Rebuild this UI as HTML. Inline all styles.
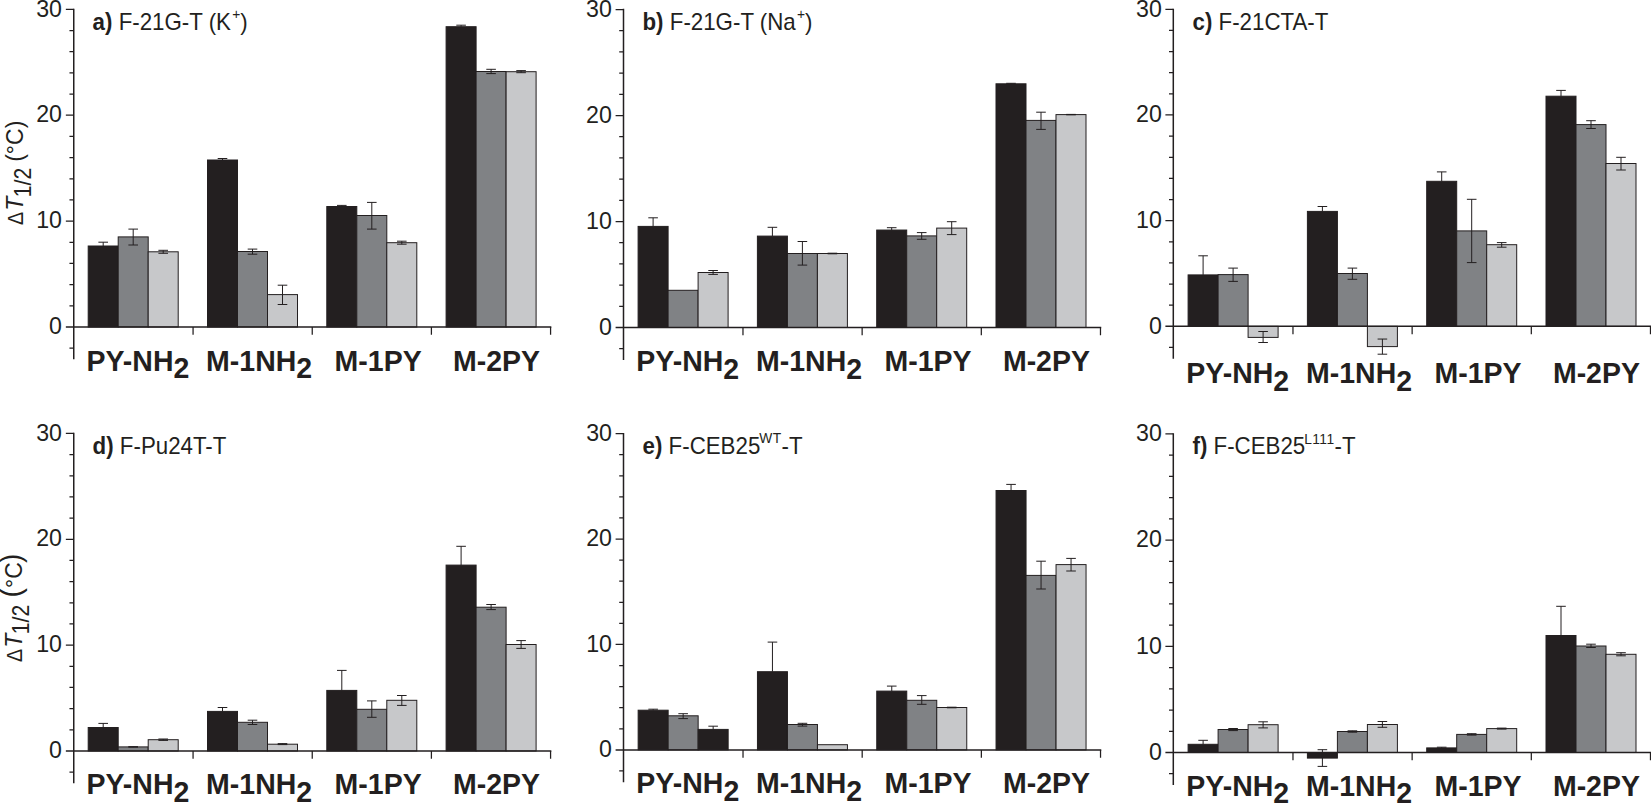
<!DOCTYPE html>
<html lang="en">
<head>
<meta charset="utf-8">
<title>ΔT1/2 bar charts</title>
<style>
html,body{margin:0;padding:0;background:#fff;}
body{width:1651px;height:804px;overflow:hidden;}
svg{display:block;}
text{font-family:"Liberation Sans", Arial, Helvetica, sans-serif;fill:#231f20;}
.tk{font-size:23.2px;text-anchor:end;}
.cat{font-size:28.5px;font-weight:bold;}
.ttl{font-size:22.3px;}
.sup{font-size:13.8px;}
.yl{font-size:23px;}
</style>
</head>
<body>
<svg width="1651" height="804" viewBox="0 0 1651 804">
<rect width="1651" height="804" fill="#fff"/>
<g id="panel-a">
<rect x="88.2" y="246" width="30" height="81" fill="#231f20" stroke="#231f20" stroke-width="1"/>
<rect x="118.2" y="236.9" width="30" height="90.1" fill="#808285" stroke="#231f20" stroke-width="1"/>
<rect x="148.2" y="251.8" width="30" height="75.2" fill="#c7c8ca" stroke="#231f20" stroke-width="1"/>
<rect x="207.5" y="160" width="30" height="167" fill="#231f20" stroke="#231f20" stroke-width="1"/>
<rect x="237.5" y="251.5" width="30" height="75.5" fill="#808285" stroke="#231f20" stroke-width="1"/>
<rect x="267.5" y="294.6" width="30" height="32.4" fill="#c7c8ca" stroke="#231f20" stroke-width="1"/>
<rect x="326.8" y="206.5" width="30" height="120.5" fill="#231f20" stroke="#231f20" stroke-width="1"/>
<rect x="356.8" y="215.5" width="30" height="111.5" fill="#808285" stroke="#231f20" stroke-width="1"/>
<rect x="386.8" y="242.7" width="30" height="84.3" fill="#c7c8ca" stroke="#231f20" stroke-width="1"/>
<rect x="446.1" y="26.7" width="30" height="300.3" fill="#231f20" stroke="#231f20" stroke-width="1"/>
<rect x="476.1" y="71.5" width="30" height="255.5" fill="#808285" stroke="#231f20" stroke-width="1"/>
<rect x="506.1" y="71.7" width="30" height="255.3" fill="#c7c8ca" stroke="#231f20" stroke-width="1"/>
<path d="M103.2 242.2V246M98.4 242.2H108M133.2 229.1V245M128.4 229.1H138M128.4 245H138M163.2 250.3V253.3M158.4 250.3H168M158.4 253.3H168M222.5 158.5V160M217.7 158.5H227.3M252.5 249.1V254.2M247.7 249.1H257.3M247.7 254.2H257.3M282.5 285.2V304.5M277.7 285.2H287.3M277.7 304.5H287.3M341.8 205.4V206.5M337 205.4H346.6M371.8 202.4V229.1M367 202.4H376.6M367 229.1H376.6M401.8 241.2V244.2M397 241.2H406.6M397 244.2H406.6M461.1 25.2V26.7M456.3 25.2H465.9M491.1 69.3V73.6M486.3 69.3H495.9M486.3 73.6H495.9M521.1 70.6V72.7M516.3 70.6H525.9M516.3 72.7H525.9" fill="none" stroke="#231f20" stroke-width="1"/>
<path d="M73.75 8.7V359.37M65.85 327H551.33" fill="none" stroke="#231f20" stroke-width="1.5"/>
<path d="M69.45 348.18H73.75M69.45 305.82H73.75M69.45 284.65H73.75M69.45 263.47H73.75M69.45 242.29H73.75M65.85 221.12H73.75M69.45 199.94H73.75M69.45 178.76H73.75M69.45 157.59H73.75M69.45 136.41H73.75M65.85 115.23H73.75M69.45 94.06H73.75M69.45 72.88H73.75M69.45 51.7H73.75M69.45 30.53H73.75M65.85 9.35H73.75M193.07 327V334.8M312.24 327V334.8M431.41 327V334.8M550.58 327V334.8" fill="none" stroke="#231f20" stroke-width="1.25"/>
<text class="tk" transform="translate(62 334.2) scale(1 1.04)">0</text>
<text class="tk" transform="translate(62 228.32) scale(1 1.04)">10</text>
<text class="tk" transform="translate(62 122.43) scale(1 1.04)">20</text>
<text class="tk" transform="translate(62 16.55) scale(1 1.04)">30</text>
<text class="cat" transform="translate(86.4 370.5) scale(1 1.04)">PY-NH<tspan dy="7.5">2</tspan></text>
<text class="cat" transform="translate(206.1 370.5) scale(1 1.04)">M-1NH<tspan dy="7.5">2</tspan></text>
<text class="cat" transform="translate(334.6 370.5) scale(1 1.04)">M-1PY</text>
<text class="cat" transform="translate(453 370.5) scale(1 1.04)">M-2PY</text>
<text class="ttl" transform="translate(92.6 29.75) scale(1 1.04)"><tspan font-weight="bold">a)</tspan> F-21G-T (K<tspan class="sup" dx="1.2" dy="-10.29">+</tspan><tspan dy="10.29">)</tspan></text>
</g>
<g id="panel-b">
<rect x="638.1" y="226.4" width="30" height="101.1" fill="#231f20" stroke="#231f20" stroke-width="1"/>
<rect x="668.1" y="290.3" width="30" height="37.2" fill="#808285" stroke="#231f20" stroke-width="1"/>
<rect x="698.1" y="272.5" width="30" height="55" fill="#c7c8ca" stroke="#231f20" stroke-width="1"/>
<rect x="757.4" y="236.1" width="30" height="91.4" fill="#231f20" stroke="#231f20" stroke-width="1"/>
<rect x="787.4" y="253.5" width="30" height="74" fill="#808285" stroke="#231f20" stroke-width="1"/>
<rect x="817.4" y="253.5" width="30" height="74" fill="#c7c8ca" stroke="#231f20" stroke-width="1"/>
<rect x="876.7" y="230.05" width="30" height="97.45" fill="#231f20" stroke="#231f20" stroke-width="1"/>
<rect x="906.7" y="235.9" width="30" height="91.6" fill="#808285" stroke="#231f20" stroke-width="1"/>
<rect x="936.7" y="228.1" width="30" height="99.4" fill="#c7c8ca" stroke="#231f20" stroke-width="1"/>
<rect x="996" y="83.8" width="30" height="243.7" fill="#231f20" stroke="#231f20" stroke-width="1"/>
<rect x="1026" y="120.4" width="30" height="207.1" fill="#808285" stroke="#231f20" stroke-width="1"/>
<rect x="1056" y="114.6" width="30" height="212.9" fill="#c7c8ca" stroke="#231f20" stroke-width="1"/>
<path d="M653.1 217.8V226.4M648.3 217.8H657.9M713.1 270.5V274.4M708.3 270.5H717.9M708.3 274.4H717.9M772.4 227.3V236.1M767.6 227.3H777.2M802.4 241.5V265.1M797.6 241.5H807.2M797.6 265.1H807.2M832.4 253.2V253.8M827.6 253.2H837.2M827.6 253.8H837.2M891.7 227.7V230.05M886.9 227.7H896.5M921.7 232.6V239.3M916.9 232.6H926.5M916.9 239.3H926.5M951.7 221.7V234.6M946.9 221.7H956.5M946.9 234.6H956.5M1011 83.3V83.8M1006.2 83.3H1015.8M1041 112.2V129.4M1036.2 112.2H1045.8M1036.2 129.4H1045.8M1071 114.4V114.8M1066.2 114.4H1075.8M1066.2 114.8H1075.8" fill="none" stroke="#231f20" stroke-width="1"/>
<path d="M623.5 8.85V359.9M615.6 327.5H1101.23" fill="none" stroke="#231f20" stroke-width="1.5"/>
<path d="M619.2 348.7H623.5M619.2 306.3H623.5M619.2 285.1H623.5M619.2 263.9H623.5M619.2 242.7H623.5M615.6 221.5H623.5M619.2 200.3H623.5M619.2 179.1H623.5M619.2 157.9H623.5M619.2 136.7H623.5M615.6 115.5H623.5M619.2 94.3H623.5M619.2 73.1H623.5M619.2 51.9H623.5M619.2 30.7H623.5M615.6 9.5H623.5M742.97 327.5V335.3M862.14 327.5V335.3M981.31 327.5V335.3M1100.48 327.5V335.3" fill="none" stroke="#231f20" stroke-width="1.25"/>
<text class="tk" transform="translate(611.9 334.7) scale(1 1.04)">0</text>
<text class="tk" transform="translate(611.9 228.7) scale(1 1.04)">10</text>
<text class="tk" transform="translate(611.9 122.7) scale(1 1.04)">20</text>
<text class="tk" transform="translate(611.9 16.7) scale(1 1.04)">30</text>
<text class="cat" transform="translate(636.3 371) scale(1 1.04)">PY-NH<tspan dy="7.5">2</tspan></text>
<text class="cat" transform="translate(756 371) scale(1 1.04)">M-1NH<tspan dy="7.5">2</tspan></text>
<text class="cat" transform="translate(884.5 371) scale(1 1.04)">M-1PY</text>
<text class="cat" transform="translate(1002.9 371) scale(1 1.04)">M-2PY</text>
<text class="ttl" transform="translate(642.5 29.9) scale(1 1.04)"><tspan font-weight="bold">b)</tspan> F-21G-T (Na<tspan class="sup" dx="1.2" dy="-10.29">+</tspan><tspan dy="10.29">)</tspan></text>
</g>
<g id="panel-c">
<rect x="1188.1" y="274.9" width="30" height="51.45" fill="#231f20" stroke="#231f20" stroke-width="1"/>
<rect x="1218.1" y="274.6" width="30" height="51.75" fill="#808285" stroke="#231f20" stroke-width="1"/>
<rect x="1248.1" y="326.35" width="30" height="11.05" fill="#c7c8ca" stroke="#231f20" stroke-width="1"/>
<rect x="1307.4" y="211.4" width="30" height="114.95" fill="#231f20" stroke="#231f20" stroke-width="1"/>
<rect x="1337.4" y="273.5" width="30" height="52.85" fill="#808285" stroke="#231f20" stroke-width="1"/>
<rect x="1367.4" y="326.35" width="30" height="20.25" fill="#c7c8ca" stroke="#231f20" stroke-width="1"/>
<rect x="1426.7" y="181.3" width="30" height="145.05" fill="#231f20" stroke="#231f20" stroke-width="1"/>
<rect x="1456.7" y="230.9" width="30" height="95.45" fill="#808285" stroke="#231f20" stroke-width="1"/>
<rect x="1486.7" y="244.7" width="30" height="81.65" fill="#c7c8ca" stroke="#231f20" stroke-width="1"/>
<rect x="1546" y="96.2" width="30" height="230.15" fill="#231f20" stroke="#231f20" stroke-width="1"/>
<rect x="1576" y="124.6" width="30" height="201.75" fill="#808285" stroke="#231f20" stroke-width="1"/>
<rect x="1606" y="163.5" width="30" height="162.85" fill="#c7c8ca" stroke="#231f20" stroke-width="1"/>
<path d="M1203.1 255.8V274.9M1198.3 255.8H1207.9M1233.1 268.1V281.4M1228.3 268.1H1237.9M1228.3 281.4H1237.9M1263.1 331.5V342.5M1258.3 331.5H1267.9M1258.3 342.5H1267.9M1322.4 206.5V211.4M1317.6 206.5H1327.2M1352.4 268.1V279.3M1347.6 268.1H1357.2M1347.6 279.3H1357.2M1382.4 339.05V354.2M1377.6 339.05H1387.2M1377.6 354.2H1387.2M1441.7 171.9V181.3M1436.9 171.9H1446.5M1471.7 199.3V262.6M1466.9 199.3H1476.5M1466.9 262.6H1476.5M1501.7 242.6V247.2M1496.9 242.6H1506.5M1496.9 247.2H1506.5M1561 90.4V96.2M1556.2 90.4H1565.8M1591 120.7V128.5M1586.2 120.7H1595.8M1586.2 128.5H1595.8M1621 157.3V170M1616.2 157.3H1625.8M1616.2 170H1625.8" fill="none" stroke="#231f20" stroke-width="1"/>
<path d="M1173.3 8.65V358.66M1165.4 326.35H1651.23" fill="none" stroke="#231f20" stroke-width="1.5"/>
<path d="M1169 347.49H1173.3M1169 305.21H1173.3M1169 284.08H1173.3M1169 262.94H1173.3M1169 241.8H1173.3M1165.4 220.67H1173.3M1169 199.53H1173.3M1169 178.39H1173.3M1169 157.26H1173.3M1169 136.12H1173.3M1165.4 114.98H1173.3M1169 93.85H1173.3M1169 72.71H1173.3M1169 51.57H1173.3M1169 30.44H1173.3M1165.4 9.3H1173.3M1292.97 326.35V334.15M1412.14 326.35V334.15M1531.31 326.35V334.15M1650.48 326.35V334.15" fill="none" stroke="#231f20" stroke-width="1.25"/>
<text class="tk" transform="translate(1161.9 333.55) scale(1 1.04)">0</text>
<text class="tk" transform="translate(1161.9 227.87) scale(1 1.04)">10</text>
<text class="tk" transform="translate(1161.9 122.18) scale(1 1.04)">20</text>
<text class="tk" transform="translate(1161.9 16.5) scale(1 1.04)">30</text>
<text class="cat" transform="translate(1186.3 383.45) scale(1 1.04)">PY-NH<tspan dy="7.5">2</tspan></text>
<text class="cat" transform="translate(1306 383.45) scale(1 1.04)">M-1NH<tspan dy="7.5">2</tspan></text>
<text class="cat" transform="translate(1434.5 383.45) scale(1 1.04)">M-1PY</text>
<text class="cat" transform="translate(1552.9 383.45) scale(1 1.04)">M-2PY</text>
<text class="ttl" transform="translate(1192.5 29.7) scale(1 1.04)"><tspan font-weight="bold">c)</tspan> F-21CTA-T</text>
</g>
<g id="panel-d">
<rect x="88.2" y="727.5" width="30" height="23.5" fill="#231f20" stroke="#231f20" stroke-width="1"/>
<rect x="118.2" y="746.9" width="30" height="4.1" fill="#808285" stroke="#231f20" stroke-width="1"/>
<rect x="148.2" y="739.7" width="30" height="11.3" fill="#c7c8ca" stroke="#231f20" stroke-width="1"/>
<rect x="207.5" y="711.4" width="30" height="39.6" fill="#231f20" stroke="#231f20" stroke-width="1"/>
<rect x="237.5" y="722.3" width="30" height="28.7" fill="#808285" stroke="#231f20" stroke-width="1"/>
<rect x="267.5" y="744.2" width="30" height="6.8" fill="#c7c8ca" stroke="#231f20" stroke-width="1"/>
<rect x="326.8" y="690.4" width="30" height="60.6" fill="#231f20" stroke="#231f20" stroke-width="1"/>
<rect x="356.8" y="709.3" width="30" height="41.7" fill="#808285" stroke="#231f20" stroke-width="1"/>
<rect x="386.8" y="700.3" width="30" height="50.7" fill="#c7c8ca" stroke="#231f20" stroke-width="1"/>
<rect x="446.1" y="565.1" width="30" height="185.9" fill="#231f20" stroke="#231f20" stroke-width="1"/>
<rect x="476.1" y="607.2" width="30" height="143.8" fill="#808285" stroke="#231f20" stroke-width="1"/>
<rect x="506.1" y="644.5" width="30" height="106.5" fill="#c7c8ca" stroke="#231f20" stroke-width="1"/>
<path d="M103.2 723.4V727.5M98.4 723.4H108M133.2 746.7V747.1M128.4 746.7H138M128.4 747.1H138M163.2 739V740.4M158.4 739H168M158.4 740.4H168M222.5 707.5V711.4M217.7 707.5H227.3M252.5 720.2V724.5M247.7 720.2H257.3M247.7 724.5H257.3M282.5 743.6V744.6M277.7 743.6H287.3M277.7 744.6H287.3M341.8 670.4V690.4M337 670.4H346.6M371.8 700.9V717.3M367 700.9H376.6M367 717.3H376.6M401.8 695.5V705.4M397 695.5H406.6M397 705.4H406.6M461.1 546.3V565.1M456.3 546.3H465.9M491.1 604.5V609.6M486.3 604.5H495.9M486.3 609.6H495.9M521.1 640.6V648.4M516.3 640.6H525.9M516.3 648.4H525.9" fill="none" stroke="#231f20" stroke-width="1"/>
<path d="M73.75 432.75V783.36M65.85 751H551.33" fill="none" stroke="#231f20" stroke-width="1.5"/>
<path d="M69.45 772.17H73.75M69.45 729.83H73.75M69.45 708.65H73.75M69.45 687.48H73.75M69.45 666.31H73.75M65.85 645.13H73.75M69.45 623.96H73.75M69.45 602.79H73.75M69.45 581.61H73.75M69.45 560.44H73.75M65.85 539.27H73.75M69.45 518.09H73.75M69.45 496.92H73.75M69.45 475.75H73.75M69.45 454.57H73.75M65.85 433.4H73.75M193.07 751V758.8M312.24 751V758.8M431.41 751V758.8M550.58 751V758.8" fill="none" stroke="#231f20" stroke-width="1.25"/>
<text class="tk" transform="translate(62 758.2) scale(1 1.04)">0</text>
<text class="tk" transform="translate(62 652.33) scale(1 1.04)">10</text>
<text class="tk" transform="translate(62 546.47) scale(1 1.04)">20</text>
<text class="tk" transform="translate(62 440.6) scale(1 1.04)">30</text>
<text class="cat" transform="translate(86.4 794.4) scale(1 1.04)">PY-NH<tspan dy="7.5">2</tspan></text>
<text class="cat" transform="translate(206.1 794.4) scale(1 1.04)">M-1NH<tspan dy="7.5">2</tspan></text>
<text class="cat" transform="translate(334.6 794.4) scale(1 1.04)">M-1PY</text>
<text class="cat" transform="translate(453 794.4) scale(1 1.04)">M-2PY</text>
<text class="ttl" transform="translate(92.6 453.8) scale(1 1.04)"><tspan font-weight="bold">d)</tspan> F-Pu24T-T</text>
</g>
<g id="panel-e">
<rect x="638.15" y="710.2" width="30" height="39.7" fill="#231f20" stroke="#231f20" stroke-width="1"/>
<rect x="668.15" y="715.8" width="30" height="34.1" fill="#808285" stroke="#231f20" stroke-width="1"/>
<rect x="698.15" y="729.4" width="30" height="20.5" fill="#231f20" stroke="#231f20" stroke-width="1"/>
<rect x="757.45" y="671.7" width="30" height="78.2" fill="#231f20" stroke="#231f20" stroke-width="1"/>
<rect x="787.45" y="724.5" width="30" height="25.4" fill="#808285" stroke="#231f20" stroke-width="1"/>
<rect x="817.45" y="744.7" width="30" height="5.2" fill="#c7c8ca" stroke="#231f20" stroke-width="1"/>
<rect x="876.75" y="691.1" width="30" height="58.8" fill="#231f20" stroke="#231f20" stroke-width="1"/>
<rect x="906.75" y="700.3" width="30" height="49.6" fill="#808285" stroke="#231f20" stroke-width="1"/>
<rect x="936.75" y="707.5" width="30" height="42.4" fill="#c7c8ca" stroke="#231f20" stroke-width="1"/>
<rect x="996.05" y="490.5" width="30" height="259.4" fill="#231f20" stroke="#231f20" stroke-width="1"/>
<rect x="1026.05" y="575.4" width="30" height="174.5" fill="#808285" stroke="#231f20" stroke-width="1"/>
<rect x="1056.05" y="564.6" width="30" height="185.3" fill="#c7c8ca" stroke="#231f20" stroke-width="1"/>
<path d="M653.15 709.2V710.2M648.35 709.2H657.95M683.15 713.7V718.6M678.35 713.7H687.95M678.35 718.6H687.95M713.15 726.2V729.4M708.35 726.2H717.95M772.45 642.1V671.7M767.65 642.1H777.25M802.45 723.3V726.1M797.65 723.3H807.25M797.65 726.1H807.25M891.75 686.1V691.1M886.95 686.1H896.55M921.75 695.6V704.3M916.95 695.6H926.55M916.95 704.3H926.55M951.75 707.2V707.8M946.95 707.2H956.55M946.95 707.8H956.55M1011.05 484.4V490.5M1006.25 484.4H1015.85M1041.05 561.2V589M1036.25 561.2H1045.85M1036.25 589H1045.85M1071.05 558.4V571M1066.25 558.4H1075.85M1066.25 571H1075.85" fill="none" stroke="#231f20" stroke-width="1"/>
<path d="M623.5 432.95V782.13M615.6 749.9H1101.28" fill="none" stroke="#231f20" stroke-width="1.5"/>
<path d="M619.2 770.99H623.5M619.2 728.81H623.5M619.2 707.73H623.5M619.2 686.64H623.5M619.2 665.55H623.5M615.6 644.47H623.5M619.2 623.38H623.5M619.2 602.29H623.5M619.2 581.21H623.5M619.2 560.12H623.5M615.6 539.03H623.5M619.2 517.95H623.5M619.2 496.86H623.5M619.2 475.77H623.5M619.2 454.69H623.5M615.6 433.6H623.5M743.02 749.9V757.7M862.19 749.9V757.7M981.36 749.9V757.7M1100.53 749.9V757.7" fill="none" stroke="#231f20" stroke-width="1.25"/>
<text class="tk" transform="translate(611.95 757.1) scale(1 1.04)">0</text>
<text class="tk" transform="translate(611.95 651.67) scale(1 1.04)">10</text>
<text class="tk" transform="translate(611.95 546.23) scale(1 1.04)">20</text>
<text class="tk" transform="translate(611.95 440.8) scale(1 1.04)">30</text>
<text class="cat" transform="translate(636.35 793.3) scale(1 1.04)">PY-NH<tspan dy="7.5">2</tspan></text>
<text class="cat" transform="translate(756.05 793.3) scale(1 1.04)">M-1NH<tspan dy="7.5">2</tspan></text>
<text class="cat" transform="translate(884.55 793.3) scale(1 1.04)">M-1PY</text>
<text class="cat" transform="translate(1002.95 793.3) scale(1 1.04)">M-2PY</text>
<text class="ttl" transform="translate(642.55 454) scale(1 1.04)"><tspan font-weight="bold">e)</tspan> F-CEB25<tspan class="sup" dx="-1" dy="-10.29" letter-spacing="0.4">WT</tspan><tspan dy="10.29">-T</tspan></text>
</g>
<g id="panel-f">
<rect x="1188.1" y="744.3" width="30" height="8.2" fill="#231f20" stroke="#231f20" stroke-width="1"/>
<rect x="1218.1" y="729.5" width="30" height="23" fill="#808285" stroke="#231f20" stroke-width="1"/>
<rect x="1248.1" y="724.7" width="30" height="27.8" fill="#c7c8ca" stroke="#231f20" stroke-width="1"/>
<rect x="1307.4" y="752.5" width="30" height="5.6" fill="#231f20" stroke="#231f20" stroke-width="1"/>
<rect x="1337.4" y="731.5" width="30" height="21" fill="#808285" stroke="#231f20" stroke-width="1"/>
<rect x="1367.4" y="724.5" width="30" height="28" fill="#c7c8ca" stroke="#231f20" stroke-width="1"/>
<rect x="1426.7" y="747.9" width="30" height="4.6" fill="#231f20" stroke="#231f20" stroke-width="1"/>
<rect x="1456.7" y="734.4" width="30" height="18.1" fill="#808285" stroke="#231f20" stroke-width="1"/>
<rect x="1486.7" y="728.6" width="30" height="23.9" fill="#c7c8ca" stroke="#231f20" stroke-width="1"/>
<rect x="1546" y="635.5" width="30" height="117" fill="#231f20" stroke="#231f20" stroke-width="1"/>
<rect x="1576" y="646" width="30" height="106.5" fill="#808285" stroke="#231f20" stroke-width="1"/>
<rect x="1606" y="654.3" width="30" height="98.2" fill="#c7c8ca" stroke="#231f20" stroke-width="1"/>
<path d="M1203.1 740.3V744.3M1198.3 740.3H1207.9M1233.1 728.5V730.6M1228.3 728.5H1237.9M1228.3 730.6H1237.9M1263.1 721.8V727.9M1258.3 721.8H1267.9M1258.3 727.9H1267.9M1322.4 749.7V766.4M1317.6 749.7H1327.2M1317.6 766.4H1327.2M1352.4 730.8V732.2M1347.6 730.8H1357.2M1347.6 732.2H1357.2M1382.4 721.5V727.3M1377.6 721.5H1387.2M1377.6 727.3H1387.2M1441.7 747.2V747.9M1436.9 747.2H1446.5M1471.7 733.7V735.1M1466.9 733.7H1476.5M1466.9 735.1H1476.5M1501.7 728.1V729.1M1496.9 728.1H1506.5M1496.9 729.1H1506.5M1561 606.3V635.5M1556.2 606.3H1565.8M1591 644.2V647.5M1586.2 644.2H1595.8M1586.2 647.5H1595.8M1621 652.7V655.8M1616.2 652.7H1625.8M1616.2 655.8H1625.8" fill="none" stroke="#231f20" stroke-width="1"/>
<path d="M1173.3 433.25V784.96M1165.4 752.5H1651.23" fill="none" stroke="#231f20" stroke-width="1.5"/>
<path d="M1169 773.74H1173.3M1169 731.26H1173.3M1169 710.02H1173.3M1169 688.78H1173.3M1169 667.54H1173.3M1165.4 646.3H1173.3M1169 625.06H1173.3M1169 603.82H1173.3M1169 582.58H1173.3M1169 561.34H1173.3M1165.4 540.1H1173.3M1169 518.86H1173.3M1169 497.62H1173.3M1169 476.38H1173.3M1169 455.14H1173.3M1165.4 433.9H1173.3M1292.97 752.5V760.3M1412.14 752.5V760.3M1531.31 752.5V760.3M1650.48 752.5V760.3" fill="none" stroke="#231f20" stroke-width="1.25"/>
<text class="tk" transform="translate(1161.9 759.7) scale(1 1.04)">0</text>
<text class="tk" transform="translate(1161.9 653.5) scale(1 1.04)">10</text>
<text class="tk" transform="translate(1161.9 547.3) scale(1 1.04)">20</text>
<text class="tk" transform="translate(1161.9 441.1) scale(1 1.04)">30</text>
<text class="cat" transform="translate(1186.3 795.5) scale(1 1.04)">PY-NH<tspan dy="7.5">2</tspan></text>
<text class="cat" transform="translate(1306 795.5) scale(1 1.04)">M-1NH<tspan dy="7.5">2</tspan></text>
<text class="cat" transform="translate(1434.5 795.5) scale(1 1.04)">M-1PY</text>
<text class="cat" transform="translate(1552.9 795.5) scale(1 1.04)">M-2PY</text>
<text class="ttl" transform="translate(1192.5 454.3) scale(1 1.04)"><tspan font-weight="bold">f)</tspan> F-CEB25<tspan class="sup" dx="-1" dy="-10.29" letter-spacing="0.4">L111</tspan><tspan dy="10.29">-T</tspan></text>
</g>
<g class="yl"><text font-size="23" transform="translate(22.8 225) rotate(-90) scale(0.86 0.97)">Δ</text><text font-size="23" font-style="italic" transform="translate(22.8 210.8) rotate(-90) scale(1.0 1.04)">T</text><text font-size="23" transform="translate(30.5 197.2) rotate(-90) scale(0.92 1.04)">1/2</text><text font-size="23" transform="translate(22.8 161.8) rotate(-90) scale(1.0 1.04)">(°C)</text></g>
<g class="yl"><text font-size="23" transform="translate(21.7 662) rotate(-90) scale(0.86 0.97)">Δ</text><text font-size="23" font-style="italic" transform="translate(21.7 647.8) rotate(-90) scale(1.0 1.04)">T</text><text font-size="23" transform="translate(29.4 634.2) rotate(-90) scale(0.92 1.04)">1/2</text><text font-size="28" transform="translate(20.7 597.5) rotate(-90) scale(1.0 1.04)">(</text><text font-size="23" transform="translate(21.7 588) rotate(-90) scale(1.0 1.04)">°C</text><text font-size="28" transform="translate(20.7 563) rotate(-90) scale(1.0 1.04)">)</text></g>
</svg>
</body>
</html>
